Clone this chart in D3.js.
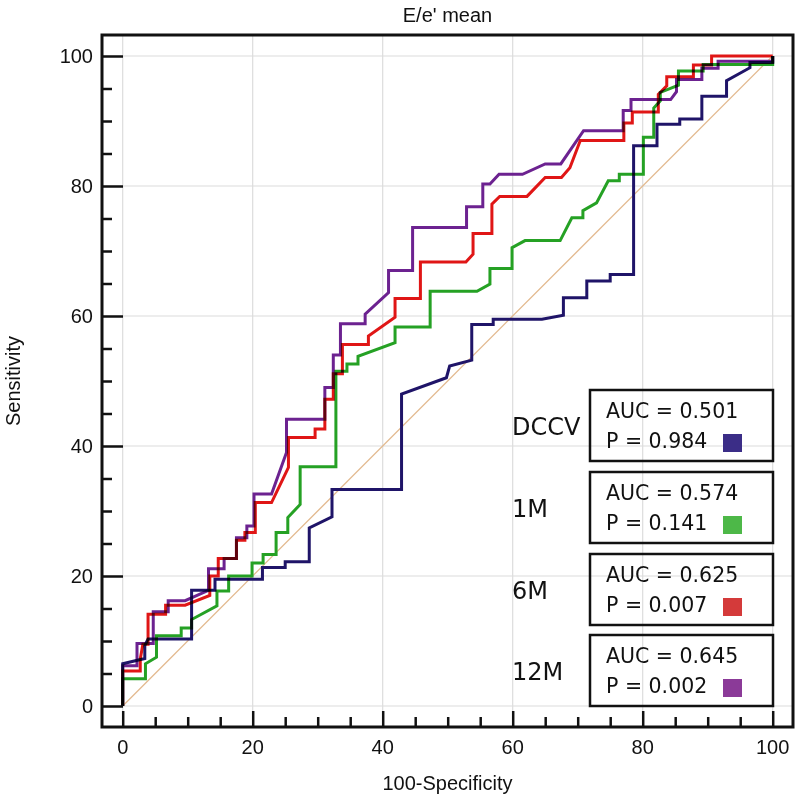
<!DOCTYPE html>
<html><head><meta charset="utf-8">
<script src="https://cdn.jsdelivr.net/npm/d3@7"></script>
<style>body{margin:0;background:#fff}</style>
</head><body>
<svg id="c" width="800" height="800" style="background:#fff"></svg>
<script>
const title = "E/e' mean";
const xTitle = "100-Specificity";
const yTitle = "Sensitivity";
const majorTicks = [0, 20, 40, 60, 80, 100];
const minorTicks = [5,10,15,25,30,35,45,50,55,65,70,75,85,90,95];

const seriesNames = ["DCCV", "1M", "6M", "12M"];
const aucLabels = ["AUC = 0.501", "AUC = 0.574", "AUC = 0.625", "AUC = 0.645"];
const pLabels = ["P = 0.984", "P = 0.141", "P = 0.007", "P = 0.002"];
const lineColors = ["#1f1468", "#25a124", "#e01616", "#6c2290"];
const swatchColors = ["#3b2d87", "#4db848", "#d43a3a", "#8b3a98"];

const dccvX = [0,0,3.4,3.4,3.9,10.6,10.6,14.2,14.2,21.5,21.5,25,25,28.7,28.7,32.2,32.2,42.9,42.9,49.8,50.3,53.7,53.7,57,57,64.5,67.8,67.8,71.4,71.4,75,75,78.6,78.6,82.2,82.2,85.7,85.7,89.1,89.1,92.9,92.9,96.5,96.5,100,100];
const dccvY = [0,6.5,7.3,9.3,10.3,10.3,17.8,17.8,19.5,19.5,21.3,21.3,22.2,22.2,27.4,29.1,33.3,33.3,48.0,50.5,52.3,53.2,58.7,58.7,59.5,59.5,60.1,62.8,62.8,65.4,65.4,66.4,66.4,86.2,86.2,89.5,89.5,90.3,90.3,93.8,93.8,96.2,98.2,99,99,100];

const m1X = [0,0,3.5,3.5,5.2,5.2,9,9,10.6,10.6,14.5,14.5,16.3,16.3,19.9,19.9,21.6,21.6,23.6,23.6,25.4,25.4,27.3,27.3,32.8,32.8,34.5,34.5,36.2,36.2,41.9,41.9,47.3,47.3,54.5,56.5,56.5,59.9,59.9,61.9,67.3,69.1,70.8,70.8,72.9,74.7,76.4,76.4,80.1,80.1,81.7,81.7,82.7,82.7,85.5,85.5,89.3,89.3,100,100];
const m1Y = [0,4.2,4.2,6.5,7.5,10.8,10.8,12.0,12.0,13.3,15.4,17.7,17.7,20,20,22,22,23.3,23.3,26.7,26.7,29,31,36.8,36.8,51.5,51.5,52.6,52.6,53.8,55.9,58.3,58.3,63.8,63.8,64.9,67.3,67.3,70.5,71.6,71.6,75.1,75.1,76.2,77.4,80.8,80.8,81.8,81.8,87.5,87.5,92,93.1,94.4,95.5,97.7,97.7,98.7,98.7,100];

const m6X = [0,0,2.7,2.7,3.1,3.9,3.9,6.6,6.6,9.6,13.4,13.4,14.7,14.7,17.5,17.5,18.8,18.8,20.4,20.4,22.9,25.5,25.5,29.6,29.6,31.1,31.1,32.4,32.4,33.8,33.8,37.8,37.8,41.9,41.9,45.8,45.8,52.8,53.9,53.9,56.8,56.8,58,62.2,65,67.5,68.8,70.4,77.1,77.1,78.4,78.4,82.4,82.4,83.7,83.7,87.8,87.8,90.6,90.6,100];
const m6Y = [0,5.4,5.4,7.2,9.5,9.5,14.1,14.1,15.5,15.5,17,20,20,22.7,22.7,25.5,25.5,26.7,26.7,31.3,31.3,36.7,41.3,41.3,42.6,42.6,47.2,47.2,51.1,51.1,55.6,55.6,56.9,59.8,62.7,62.7,68.3,68.3,69.5,72.7,72.7,77.2,78.4,78.4,81.3,81.3,82.8,87,87,89.7,89.7,91.4,91.4,94.1,95.4,96.8,96.8,98.6,98.6,100,100];

const m12X = [0,0,2.2,2.2,4.7,4.7,7,7,9.6,13.2,13.2,15.6,15.6,17.5,17.5,19.1,19.1,20.2,20.2,22.9,25.2,25.2,31.1,31.1,32.4,32.4,33.5,33.5,37.3,37.3,40.9,40.9,44.6,44.6,52.9,52.9,55.4,55.4,56.5,57.9,61.5,65,67.4,70.9,77,77,78.2,78.2,84.3,85.2,85.2,89.1,89.1,91.6,91.6,100,100];
const m12Y = [0,6.2,6.2,9.6,9.6,14.5,14.5,16.2,16.2,17.8,21.1,21.1,22.7,22.7,25.9,25.9,27.7,27.7,32.6,32.6,39,44.1,44.1,49,49,54,54,58.8,58.8,60.3,63.6,67,67,73.6,73.6,76.8,76.8,80.3,80.3,81.8,81.8,83.4,83.4,88.5,88.5,91.6,91.6,93.3,93.3,94.5,96.4,96.4,98.1,98.1,99.2,99.2,100];

const seriesX = [dccvX, m1X, m6X, m12X];
const seriesY = [dccvY, m1Y, m6Y, m12Y];

const svg = d3.select("#c");
const frame = {l: 102, r: 793, t: 35, b: 727};
const x = d3.scaleLinear().domain([0, 100]).range([122.7, 772.7]);
const y = d3.scaleLinear().domain([0, 100]).range([706, 56]);
const font = "'Liberation Sans', Arial, sans-serif";

svg.append("rect").attr("width", 800).attr("height", 800).attr("fill", "#fff");

// gridlines
const grid = svg.append("g").attr("stroke", "#dcdcdc").attr("stroke-width", 1.2);
majorTicks.forEach(v => {
  grid.append("line").attr("x1", x(v)).attr("x2", x(v)).attr("y1", frame.t).attr("y2", frame.b);
  grid.append("line").attr("y1", y(v)).attr("y2", y(v)).attr("x1", frame.l).attr("x2", frame.r);
});

// diagonal
svg.append("line").attr("x1", x(0)).attr("y1", y(0)).attr("x2", x(100)).attr("y2", y(100))
  .attr("stroke", "#e2b98e").attr("stroke-width", 1.3);

// curves
const line = d3.line().x(d => x(d[0])).y(d => y(d[1]));
const curves = svg.append("g").style("isolation", "isolate");
seriesX.forEach((xs, i) => {
  const pts = xs.map((v, j) => [v, seriesY[i][j]]);
  curves.append("path").attr("d", line(pts)).attr("fill", "none")
    .attr("stroke", lineColors[i]).attr("stroke-width", 3).attr("stroke-linejoin", "miter")
    .style("mix-blend-mode", "multiply");
});

// frame
svg.append("rect").attr("x", frame.l).attr("y", frame.t).attr("width", frame.r - frame.l).attr("height", frame.b - frame.t)
  .attr("fill", "none").attr("stroke", "#111").attr("stroke-width", 3);

// axes ticks
const yAxis = d3.axisRight(y).tickValues(majorTicks).tickSize(21).tickFormat("");
const gy = svg.append("g").attr("transform", `translate(${frame.l},0)`).call(yAxis);
const gyMinor = svg.append("g").attr("transform", `translate(${frame.l},0)`)
  .call(d3.axisRight(y).tickValues(minorTicks).tickSize(10).tickFormat(""));
const xAxis = d3.axisTop(x).tickValues(majorTicks).tickSize(16).tickFormat("");
const gx = svg.append("g").attr("transform", `translate(0,${frame.b})`).call(xAxis);
const gxMinor = svg.append("g").attr("transform", `translate(0,${frame.b})`)
  .call(d3.axisTop(x).tickValues(minorTicks).tickSize(10).tickFormat(""));
[gy, gyMinor, gx, gxMinor].forEach(g => {
  g.select(".domain").remove();
  g.selectAll(".tick line").attr("stroke", "#111").attr("stroke-width", 2.5);
});

// tick labels
majorTicks.forEach(v => {
  svg.append("text").attr("x", 93).attr("y", y(v)).attr("dy", "0.36em").attr("text-anchor", "end")
    .attr("font-family", font).attr("font-size", 20).attr("fill", "#111").text(v);
  svg.append("text").attr("x", x(v)).attr("y", 754).attr("text-anchor", "middle")
    .attr("font-family", font).attr("font-size", 20).attr("fill", "#111").text(v);
});

// titles
svg.append("text").attr("x", (frame.l + frame.r) / 2).attr("y", 22).attr("text-anchor", "middle")
  .attr("font-family", font).attr("font-size", 20).attr("fill", "#111").text(title);
svg.append("text").attr("x", (frame.l + frame.r) / 2).attr("y", 790).attr("text-anchor", "middle")
  .attr("font-family", font).attr("font-size", 20).attr("fill", "#111").text(xTitle);
svg.append("text").attr("transform", `translate(20,${(y(0) + y(100)) / 2}) rotate(-90)`).attr("text-anchor", "middle")
  .attr("font-family", font).attr("font-size", 20).attr("fill", "#111").text(yTitle);

// legend
const lfont = "'DejaVu Sans', Verdana, sans-serif";
const boxTops = [390, 472, 554, 635];
seriesNames.forEach((name, i) => {
  const t = boxTops[i];
  svg.append("rect").attr("x", 590).attr("y", t).attr("width", 183).attr("height", 71)
    .attr("fill", "none").attr("stroke", "#111").attr("stroke-width", 2.5);
  svg.append("text").attr("x", 606).attr("y", t + 28).attr("font-family", lfont).attr("font-size", 20.5)
    .attr("fill", "#111").text(aucLabels[i]);
  svg.append("text").attr("x", 606).attr("y", t + 58).attr("font-family", lfont).attr("font-size", 20.5)
    .attr("fill", "#111").text(pLabels[i]);
  svg.append("rect").attr("x", 723).attr("y", t + 44).attr("width", 19).attr("height", 18).attr("fill", swatchColors[i]);
  svg.append("text").attr("x", 512).attr("y", t + 45).attr("font-family", lfont).attr("font-size", 24)
    .attr("fill", "#111").text(name);
});
</script>
</body></html>
